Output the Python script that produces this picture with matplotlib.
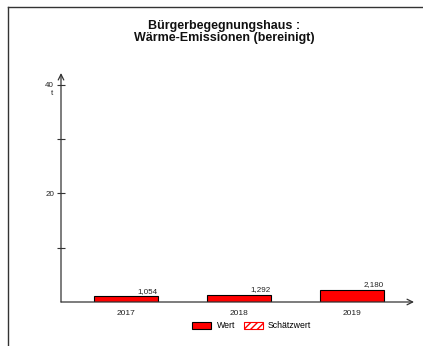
import matplotlib.pyplot as plt
from matplotlib.patches import Patch
from matplotlib.lines import Line2D

plt.rcParams['font.family'] = ['Liberation Sans', 'DejaVu Sans']

### Data
years = ['2017', '2018', '2019']
wert = [1.054, 1.292, 2.180]
wert_labels = ['1,054', '1,292', '2,180']

fig = plt.figure(figsize=(4.23, 3.46), dpi=100)
ax = fig.add_axes([61/423, 44/346, (414-61)/423, (302-73)/346])

x = list(range(len(years)))
ax.bar(x, wert, width=0.566, color='#ff0000', edgecolor='black', linewidth=0.8)
for xi, v, lab in zip(x, wert, wert_labels):
    ax.text(xi + 0.19, v + 0.3, lab, ha='center', va='bottom', fontsize=5.8, color='#222222')

ax.set_xlim(-0.575, 2.55)
ax.set_ylim(0, 42.2)

for s in ax.spines.values():
    s.set_visible(False)

# axes with arrow heads
ax.annotate('', xy=(0, 1), xytext=(0, 0), xycoords='axes fraction',
            arrowprops=dict(arrowstyle='->', color='#333333', lw=0.9, shrinkA=0, shrinkB=0))
ax.annotate('', xy=(1, 0), xytext=(0, 0), xycoords='axes fraction',
            arrowprops=dict(arrowstyle='->', color='#333333', lw=0.9, shrinkA=0, shrinkB=0))

ax.set_yticks([20, 40])
ax.set_yticklabels(['20', '40'], fontsize=5.8, color='#222222')
ax.set_yticks([10, 30], minor=True)
ax.tick_params(axis='y', which='both', direction='inout', length=6, width=0.8, color='#333333', pad=2)
ax.text(-0.025, 38.5, 't', transform=ax.get_yaxis_transform(), ha='center', va='center',
        fontsize=5.8, color='#222222')

ax.set_xticks(x)
ax.set_xticklabels(years, fontsize=6, color='#222222')
ax.tick_params(axis='x', length=0, pad=6)

fig.text(0.53, 1 - 26/346, 'Bürgerbegegnungshaus :', ha='center', va='center',
         fontsize=9, fontweight='bold', color='#111111')
fig.text(0.53, 1 - 38/346, 'Wärme-Emissionen (bereinigt)', ha='center', va='center',
         fontsize=9, fontweight='bold', color='#111111')

handles = [Patch(facecolor='#ff0000', edgecolor='black', linewidth=0.8),
           Patch(facecolor='white', edgecolor='#ff0000', hatch='/////', linewidth=0.8)]
fig.legend(handles, ['Wert', 'Schätzwert'], loc='center', bbox_to_anchor=(0.595, 20/346),
           ncol=2, frameon=False, fontsize=6.3, handlelength=2.2, handleheight=0.7,
           columnspacing=1.0, handletextpad=0.6)

# outer frame lines (left and top)
fig.add_artist(Line2D([8/423, 8/423], [0, 1 - 7/346], color='#333333', lw=1.0))
fig.add_artist(Line2D([8/423, 1], [1 - 7/346, 1 - 7/346], color='#333333', lw=1.0))

plt.savefig('out.png', dpi=100)
plt.close()
